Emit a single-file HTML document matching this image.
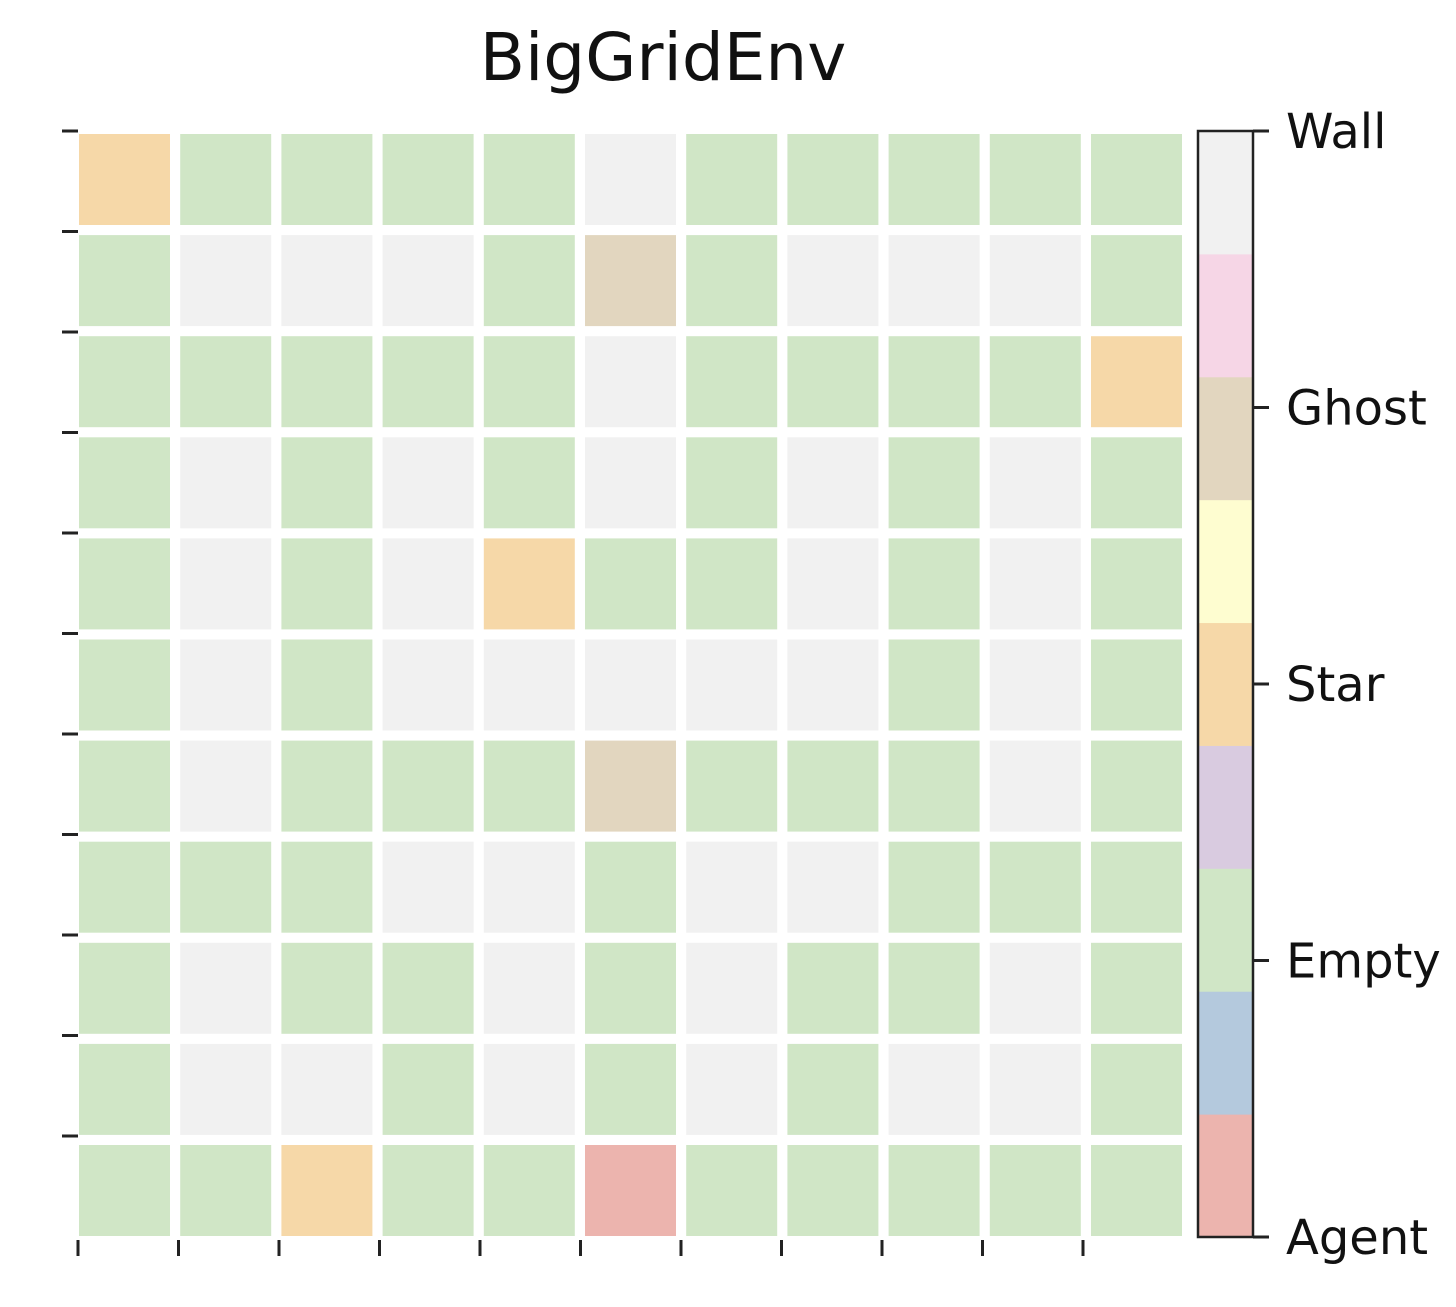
<!DOCTYPE html>
<html><head><meta charset="utf-8"><style>
body{margin:0;background:#fff;width:1456px;height:1302px;overflow:hidden;font-family:"Liberation Sans","DejaVu Sans",sans-serif;}
</style></head><body>
<svg width="1456" height="1302">
<text x="663" y="80" text-anchor="middle" font-size="66" fill="#111" font-family="DejaVu Sans, Liberation Sans, sans-serif">BigGridEnv</text>
<g id="cells"></g>
<g id="axes"></g>
<g id="cbar"></g>
</svg>
<script>
const gridRows = [
"SEEEEWEEEEE",
"EWWWEHEWWWE",
"EEEEEWEEEES",
"EWEWEWEWEWE",
"EWEWSEEWEWE",
"EWEWWWWWEWE",
"EWEEEHEEEWE",
"EEEWWEWWEEE",
"EWEEWEWEEWE",
"EWWEWEWEWWE",
"EESEEAEEEEE"
];
const cellColors = {E:"#d0e6c6",W:"#f1f1f1",S:"#f6d8a8",H:"#e2d6bf",A:"#ecb4ae"};
const cbarColors = ["#ecb4ae","#b4c9dd","#d0e6c6","#d9cbe0","#f6d8a8","#fefdd0","#e2d6bf","#f6d6e6","#f1f1f1"];
const cbarLabels = ["Agent","Empty","Star","Ghost","Wall"];
const cbarTickVals = [0,1,2,3,4];
const NS="http://www.w3.org/2000/svg";
function mk(t,a,p){const e=document.createElementNS(NS,t);for(const k in a)e.setAttribute(k,a[k]);p.appendChild(e);return e;}
const gx0=79,gy0=134,px=101.2,py=101.1,cs=91;
const xs=c=>gx0+c*px, ys=r=>gy0+r*py;
const txs=i=>78+i*100.5, tys=i=>131+i*100.5;
const cells=document.getElementById('cells');
gridRows.forEach((row,r)=>{[...row].forEach((ch,c)=>{
 const e=mk('rect',{x:xs(c),y:ys(r),width:cs,height:cs,fill:cellColors[ch]},cells);
 
 
});});
const axes=document.getElementById('axes');
for(let i=0;i<11;i++){
 const t=mk('line',{x1:62,x2:78,y1:tys(i),y2:tys(i),stroke:"#222","stroke-width":3},axes);
 
 
 const u=mk('line',{x1:txs(i),x2:txs(i),y1:1240,y2:1256,stroke:"#222","stroke-width":3},axes);
 
 
}
const cb=document.getElementById('cbar');
const cx=1198,cw=55,cy0=131,cy1=1237,seg=(cy1-cy0)/cbarColors.length;
cbarColors.forEach((col,i)=>{
 const e=mk('rect',{x:cx,y:cy1-(i+1)*seg,width:cw,height:seg+0.5,fill:col},cb);
 
 
});
mk('rect',{x:cx,y:cy0,width:cw,height:cy1-cy0,fill:"none",stroke:"#222","stroke-width":2.5},cb);
const vmax=cbarTickVals[cbarTickVals.length-1];
cbarTickVals.forEach((v,i)=>{
 const y=cy1-(v/vmax)*(cy1-cy0);
 const l=mk('line',{x1:cx+cw,x2:cx+cw+16,y1:y,y2:y,stroke:"#222","stroke-width":3},cb);
 
 
 const t=mk('text',{x:1286,y:y+17,"font-size":48,fill:"#111","font-family":"DejaVu Sans, Liberation Sans, sans-serif"},cb);
 t.textContent=cbarLabels[i];
 
 
});
</script>
</body></html>
